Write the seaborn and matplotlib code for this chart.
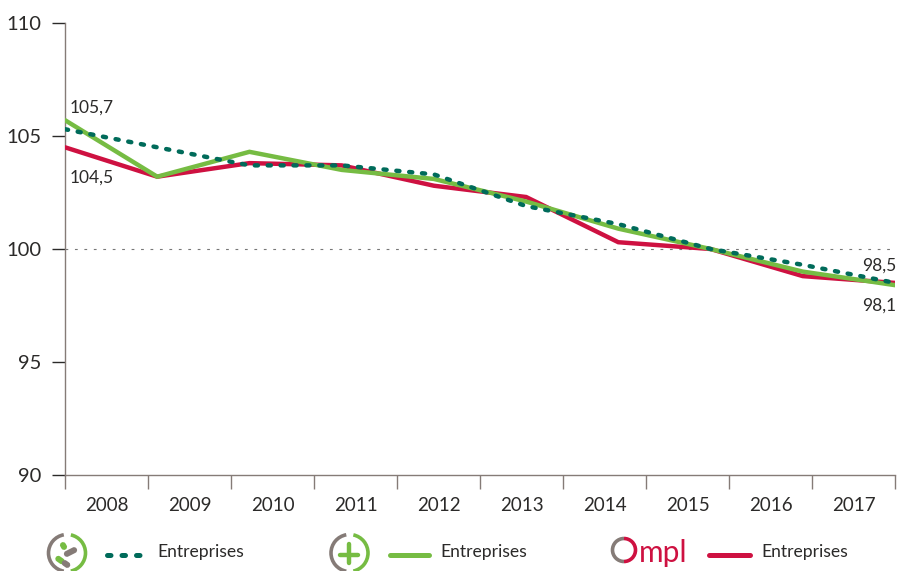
import numpy as np
import pandas as pd
import seaborn as sns
import matplotlib.pyplot as plt
from matplotlib.patches import Arc, FancyBboxPatch
from matplotlib.lines import Line2D
from matplotlib.transforms import Affine2D

years = [2008, 2009, 2010, 2011, 2012, 2013, 2014, 2015, 2016, 2017]
dotted_values = [105.3, 104.5, 103.7, 103.7, 103.3, 101.9, 101.1, 100.0, 99.3, 98.5]
green_values = [105.7, 103.2, 104.3, 103.5, 103.1, 102.1, 100.9, 100.0, 99.0, 98.4]
red_values = [104.5, 103.2, 103.8, 103.7, 102.8, 102.3, 100.3, 100.0, 98.8, 98.5]
y_ticks = [90, 95, 100, 105, 110]
legend_label = "Entreprises"

dark_green = "#006B5A"
green = "#76BC43"
red = "#CE1141"
grey = "#857B77"
text_color = "#2B2A29"

sns.set_theme(style="white")
plt.rcParams['font.family'] = ['Lato', 'DejaVu Sans']

df = pd.DataFrame({"year": years, "dotted": dotted_values, "green": green_values, "red": red_values})

figure = plt.figure(figsize=(8.98, 5.71), dpi=100)
axis = figure.add_axes([65 / 898, 1 - 475 / 571, 830 / 898, 452 / 571])

axis.axhline(100, color="#777777", lw=0.8, dashes=(2.5, 6), zorder=1)

sns.lineplot(data=df, x="year", y="red", color=red, lw=3.2, ax=axis, zorder=3, solid_joinstyle='miter')
sns.lineplot(data=df, x="year", y="green", color=green, lw=3.2, ax=axis, zorder=4, solid_joinstyle='miter')
sns.lineplot(data=df, x="year", y="dotted", color=dark_green, lw=3.2, ax=axis, zorder=5,
             linestyle=(0, (0.7, 2.2)), dash_capstyle='round')

axis.set_xlim(years[0], years[-1])
axis.set_ylim(y_ticks[0], y_ticks[-1])
axis.set(xlabel="", ylabel="")

# year labels sit in bands, narrower than the spacing of the points
edges = np.linspace(years[0], years[-1], len(years) + 1)
axis.set_xticks(edges)
axis.set_xticklabels([])
axis.set_xticks((edges[:-1] + edges[1:]) / 2, minor=True)
axis.set_xticklabels(years, minor=True)
axis.set_yticks(y_ticks)
axis.tick_params(axis='x', which='major', length=10, width=1, color=grey, bottom=True)
axis.tick_params(axis='x', which='minor', length=0, labelsize=13.5, labelcolor=text_color, pad=15.5, bottom=False)
axis.tick_params(axis='y', length=9.5, width=1, color=text_color, left=True, labelsize=14.5,
                 labelcolor=text_color, pad=7.5)

axis.spines['top'].set_visible(False)
axis.spines['right'].set_visible(False)
axis.spines['left'].set_color(grey)
axis.spines['bottom'].set_color(grey)
axis.spines['left'].set_linewidth(1)
axis.spines['bottom'].set_linewidth(1)

axis.annotate("105,7", (years[0], green_values[0]), xytext=(3.5, 3.5), textcoords='offset points',
              fontsize=12.5, color=text_color, va='bottom', ha='left')
axis.annotate("104,5", (years[0], red_values[0]), xytext=(3, -16), textcoords='offset points',
              fontsize=12.5, color=text_color, va='top', ha='left')
axis.annotate("98,5", (years[-1], red_values[-1]), xytext=(1, 7), textcoords='offset points',
              fontsize=12.5, color=text_color, va='bottom', ha='right')
axis.annotate("98,1", (years[-1], green_values[-1]), xytext=(1, -9), textcoords='offset points',
              fontsize=12.5, color=text_color, va='top', ha='right')

# legend row with the small logos, drawn in pixel coordinates
overlay = figure.add_axes([0, 0, 1, 1], facecolor='none')
overlay.set_xlim(0, 898)
overlay.set_ylim(571, 0)
overlay.axis('off')


def add_ring(center_x, center_y, right_color):
    overlay.add_patch(Arc((center_x, center_y), 37, 37, theta1=100, theta2=260, color=grey, lw=2.6))
    overlay.add_patch(Arc((center_x, center_y), 37, 37, theta1=-78, theta2=78, color=right_color, lw=2.6))


def add_capsule(center_x, center_y, length, angle, color):
    capsule = FancyBboxPatch((-length / 2, -3), length, 6, boxstyle="round,pad=0,rounding_size=3",
                             fc=color, ec='none')
    capsule.set_transform(Affine2D().rotate_deg(angle).translate(center_x, center_y) + overlay.transData)
    overlay.add_patch(capsule)


add_ring(67, 553, green)
add_capsule(63.5, 546, 8, 60, green)
add_capsule(70.5, 552, 14, -27, grey)
add_capsule(60, 560, 10, 35, green)
add_capsule(66, 564, 9, 35, grey)

add_ring(349.5, 553, green)
overlay.add_line(Line2D([349, 349], [544, 563], color=green, lw=3.2))
overlay.add_line(Line2D([340, 358], [555, 555], color=green, lw=3.2))

overlay.add_patch(Arc((624, 550), 23, 23, theta1=90, theta2=270, color=grey, lw=2.6))
overlay.add_patch(Arc((624, 550), 23, 23, theta1=-90, theta2=90, color=red, lw=2.6))
overlay.text(639, 562, "mpl", color=red, fontsize=21.5, va='baseline', ha='left')

legend_rows = [(107, 147, dark_green, (0, (0.7, 2.2)), 157), (390, 429, green, '-', 440), (709, 750, red, '-', 761)]
for x_start, x_end, color, style, text_x in legend_rows:
    overlay.add_line(Line2D([x_start, x_end], [555, 555], color=color, lw=3.6, linestyle=style,
                            dash_capstyle='round', solid_capstyle='round'))
    overlay.text(text_x, 552, legend_label, fontsize=12.6, color=text_color, va='center', ha='left')

plt.savefig('out.png', dpi=100)
plt.close(figure)
